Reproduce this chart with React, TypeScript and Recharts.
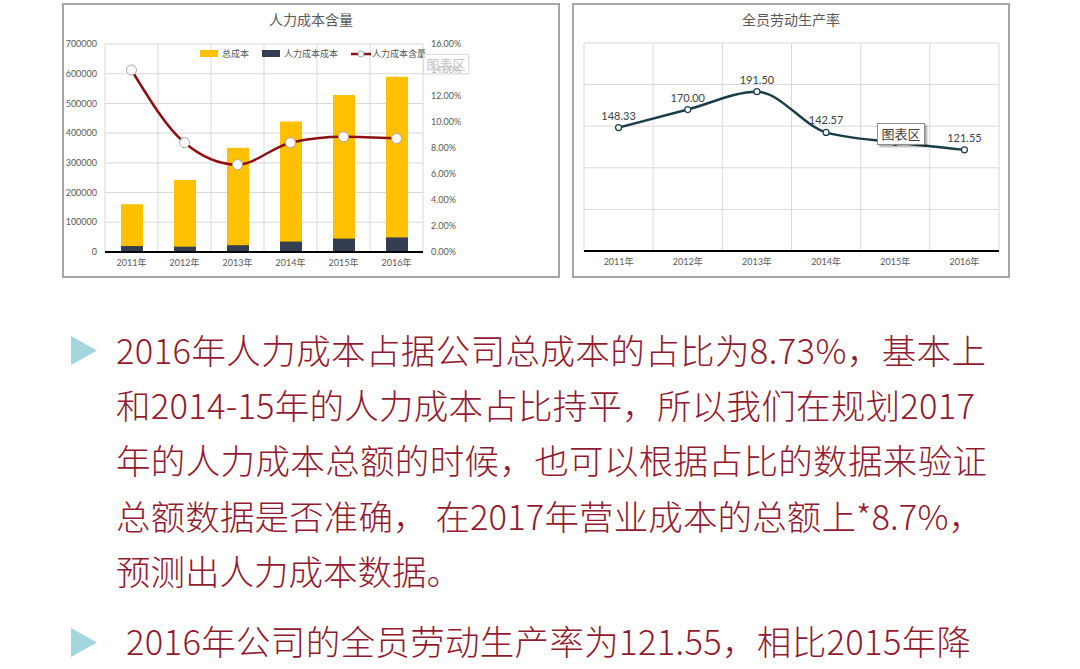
import {
  Bar,
  CartesianGrid,
  ComposedChart,
  LabelList,
  Legend,
  Line,
  LineChart,
  XAxis,
  YAxis,
} from "recharts";

const years = ["2011年", "2012年", "2013年", "2014年", "2015年", "2016年"];

// 人力成本含量
const totalCost = [161000, 242000, 351000, 439000, 528000, 590000];
const laborCost = [20000, 18000, 23000, 35000, 45000, 49000];
const laborShare = [0.14, 0.0841, 0.0672, 0.0841, 0.0886, 0.0873];
const costTicks = [0, 100000, 200000, 300000, 400000, 500000, 600000, 700000];
const shareTicks = [0, 0.02, 0.04, 0.06, 0.08, 0.1, 0.12, 0.14, 0.16];
const costLegendOrder = ["总成本", "人力成本成本", "人力成本含量"];

// 全员劳动生产率
const productivity = [148.33, 170.0, 191.5, 142.57, 130.6, 121.55];
const productivityTicks = [0, 50, 100, 150, 200, 250];

const paragraphOne = [
  "2016年人力成本占据公司总成本的占比为8.73%，基本上",
  "和2014-15年的人力成本占比持平，所以我们在规划2017",
  "年的人力成本总额的时候，也可以根据占比的数据来验证",
  "总额数据是否准确， 在2017年营业成本的总额上*8.7%，",
  "预测出人力成本数据。",
];
const paragraphTwo = ["2016年公司的全员劳动生产率为121.55，相比2015年降"];

const costData = years.map((year, i) => ({
  year,
  total: totalCost[i],
  labor: laborCost[i],
  share: laborShare[i],
}));

const productivityData = years.map((year, i) => ({ year, value: productivity[i] }));

const chartFont = "Lato, 'Noto Sans CJK SC', sans-serif";
const bodyFont = "'Noto Sans CJK SC', sans-serif";
const axisTick = { fontSize: 9, fill: "#595959", fontFamily: chartFont };
const textRed = "#921a2e";

// grid lines sit on the category boundaries, like Excel
function bandEdges({ offset }: any) {
  const count = years.length;
  return Array.from({ length: count + 1 }, (_, i) => offset.left + (offset.width * i) / count);
}

function CostLegend({ payload }: any) {
  const items = [...(payload ?? [])].sort(
    (a: any, b: any) => costLegendOrder.indexOf(a.value) - costLegendOrder.indexOf(b.value),
  );
  return (
    <div
      style={{
        display: "flex",
        alignItems: "center",
        fontSize: 9,
        color: "#595959",
        fontFamily: chartFont,
        whiteSpace: "nowrap",
      }}
    >
      {items.map((entry: any) => (
        <span key={entry.value} style={{ display: "flex", alignItems: "center", marginRight: 13 }}>
          {entry.type === "line" ? (
            <svg width={20} height={10} style={{ marginRight: 1 }}>
              <line x1={0} y1={5} x2={20} y2={5} stroke={entry.color} strokeWidth={2.5} />
              <circle cx={10} cy={5} r={3} fill="#fff" stroke="#a6a6a6" />
            </svg>
          ) : (
            <span style={{ width: 18, height: 7, background: entry.color, marginRight: 4 }} />
          )}
          {entry.value}
        </span>
      ))}
    </div>
  );
}

function Bullet({ top }: { top: number }) {
  return (
    <svg width={26} height={29} style={{ position: "absolute", left: 71, top }}>
      <polygon points="0,0 26,14.5 0,29" fill="#a3d6df" />
    </svg>
  );
}

function ChartTip({ left, top, faint }: { left: number; top: number; faint?: boolean }) {
  return (
    <div
      style={{
        position: "absolute",
        left,
        top,
        width: faint ? 46 : 48,
        height: faint ? 20 : 22,
        boxSizing: "border-box",
        border: faint ? "1px solid #dedede" : "1px solid #8c8c8c",
        background: faint ? "rgba(255,255,255,0.55)" : "#fff",
        boxShadow: faint ? "1px 1px 2px rgba(0,0,0,0.08)" : "2px 2px 2px rgba(0,0,0,0.35)",
        color: faint ? "#c4c4c4" : "#404040",
        fontFamily: chartFont,
        fontSize: 13,
        lineHeight: faint ? "18px" : "20px",
        textAlign: "center",
      }}
    >
      图表区
    </div>
  );
}

const boxStyle = {
  position: "absolute" as const,
  top: 3,
  height: 275,
  boxSizing: "border-box" as const,
  border: "2px solid #a6a6a6",
  background: "#fff",
};

const titleStyle = {
  position: "absolute" as const,
  top: 6,
  left: 0,
  width: "100%",
  textAlign: "center" as const,
  fontFamily: chartFont,
  fontSize: 14,
  lineHeight: "18px",
  color: "#595959",
};

function LaborCostChart() {
  return (
    <div style={{ ...boxStyle, left: 62, width: 498 }}>
      <ComposedChart
        width={494}
        height={271}
        data={costData}
        margin={{ top: 39, right: 75, bottom: 0, left: 0 }}
        barSize={22}
        barGap={-22}
      >
        <CartesianGrid yAxisId="left" stroke="#d9d9d9" verticalCoordinatesGenerator={bandEdges} />
        <XAxis
          dataKey="year"
          height={24}
          tickLine={false}
          axisLine={{ stroke: "#000", strokeWidth: 2 }}
          tick={axisTick}
          interval={0}
        />
        <YAxis
          yAxisId="left"
          width={41}
          domain={[0, 700000]}
          ticks={costTicks}
          interval={0}
          axisLine={false}
          tickLine={false}
          tick={axisTick}
        />
        <YAxis
          yAxisId="right"
          orientation="right"
          width={60}
          domain={[0, 0.16]}
          ticks={shareTicks}
          interval={0}
          axisLine={false}
          tickLine={false}
          tick={{ ...axisTick, textAnchor: "start" }}
          tickFormatter={(v: number) => `${(v * 100).toFixed(2)}%`}
        />
        <Legend
          verticalAlign="middle"
          align="center"
          layout="horizontal"
          content={<CostLegend />}
          wrapperStyle={{ top: 42, left: 136, width: "auto", height: "auto" }}
        />
        <Bar yAxisId="left" dataKey="total" name="总成本" fill="#ffc000" isAnimationActive={false} />
        <Bar yAxisId="left" dataKey="labor" name="人力成本成本" fill="#333f50" isAnimationActive={false} />
        <Line
          yAxisId="right"
          type="monotone"
          dataKey="share"
          name="人力成本含量"
          stroke="#8c0f12"
          strokeWidth={2.5}
          dot={{ r: 5, fill: "#fff", stroke: "#a6a6a6", strokeWidth: 1 }}
          isAnimationActive={false}
        />
      </ComposedChart>
      <div style={titleStyle}>人力成本含量</div>
    </div>
  );
}

function ProductivityChart() {
  return (
    <div style={{ ...boxStyle, left: 572, width: 438 }}>
      <LineChart
        width={434}
        height={271}
        data={productivityData}
        margin={{ top: 38, right: 9, bottom: 0, left: 10 }}
      >
        <CartesianGrid stroke="#d9d9d9" verticalCoordinatesGenerator={bandEdges} />
        <XAxis
          dataKey="year"
          scale="band"
          height={25}
          tickLine={false}
          axisLine={{ stroke: "#000", strokeWidth: 2 }}
          tick={axisTick}
          interval={0}
        />
        <YAxis hide domain={[0, 250]} ticks={productivityTicks} interval={0} />
        <Line
          type="monotone"
          dataKey="value"
          stroke="#1a3d47"
          strokeWidth={2.5}
          dot={{ r: 3, fill: "#fff", stroke: "#1a3d47", strokeWidth: 1.2 }}
          isAnimationActive={false}
        >
          <LabelList
            dataKey="value"
            position="top"
            offset={8}
            formatter={(v: number) => v.toFixed(2)}
            style={{ fontSize: 11, fill: "#404040", fontFamily: chartFont }}
          />
        </Line>
      </LineChart>
      <div style={titleStyle}>全员劳动生产率</div>
    </div>
  );
}

// baseline and justified length of each text line
const lineBaselines = [363.5, 418.5, 474, 529.5, 585];
const lineLengths = [870, 859, 871, 867, 0];

function TextBlock() {
  return (
    <svg
      width={1080}
      height={669}
      style={{ position: "absolute", left: 0, top: 0, pointerEvents: "none" }}
    >
      <g fill={textRed} fontFamily={bodyFont} fontSize={34.5} fontWeight={300}>
        {paragraphOne.map((text, i) =>
          lineLengths[i] ? (
            <text key={text} x={116} y={lineBaselines[i]} textLength={lineLengths[i]} lengthAdjust="spacing">
              {text}
            </text>
          ) : (
            <text key={text} x={116} y={lineBaselines[i]}>
              {text}
            </text>
          ),
        )}
        {paragraphTwo.map((text) => (
          <text key={text} x={126} y={655} textLength={845} lengthAdjust="spacing">
            {text}
          </text>
        ))}
      </g>
    </svg>
  );
}

export default function App() {
  return (
    <div
      style={{
        position: "absolute",
        left: 0,
        top: 0,
        width: 1080,
        height: 669,
        background: "#fff",
        overflow: "hidden",
      }}
    >
      <LaborCostChart />
      <ProductivityChart />
      <ChartTip left={423} top={54} faint />
      <ChartTip left={877} top={123} />

      <Bullet top={336} />
      <Bullet top={628} />
      <TextBlock />
    </div>
  );
}
